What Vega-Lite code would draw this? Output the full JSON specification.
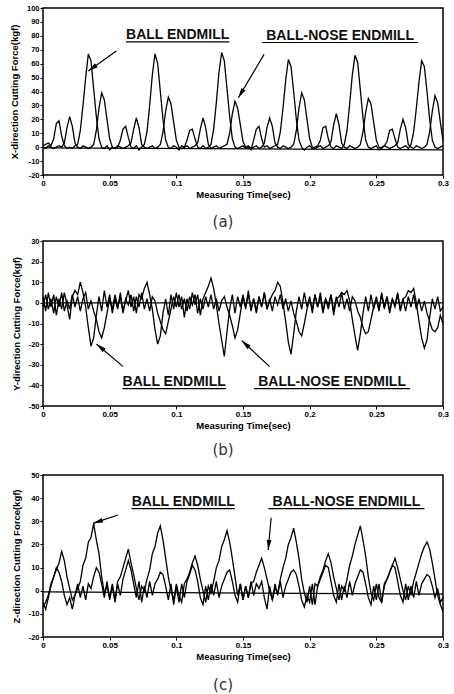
{
"$schema": "https://vega.github.io/schema/vega-lite/v6.json",
"padding": {"left": 8, "top": 3, "right": 5, "bottom": 0},
"background": "white",
"spacing": 11,
"config": {
  "view": {"stroke": "black", "strokeWidth": 1.5},
  "axis": {"grid": false, "domain": false, "tickColor": "black", "tickSize": 3, "tickWidth": 1, "tickCount": 30, "labelFont": "Liberation Sans", "labelFontSize": 7.5, "labelFontWeight": "bold", "labelColor": "black", "titleFont": "Liberation Sans", "titleFontSize": 9.5, "titleFontWeight": "bold", "titleColor": "black", "labelPadding": 1, "labelFlush": false, "labelOverlap": false},
  "axisY": {"titlePadding": 7},
  "axisX": {"titlePadding": 2, "labelFontSize": 8},
  "title": {"font": "DejaVu Sans", "fontSize": 15, "fontWeight": "normal", "color": "#333", "orient": "bottom", "dx": -20}
},
"datasets": {
"sig": [
{"t":0,"a1":1,"a2":0,"b1":3,"b2":-2,"c1":-7,"c2":-5},
{"t":0.002,"a1":2,"a2":-1,"b1":-4,"b2":4,"c1":-5,"c2":-8},
{"t":0.004,"a1":3,"a2":1,"b1":5,"b2":-3,"c1":-2,"c2":-3},
{"t":0.006,"a1":1,"a2":0,"b1":-2,"b2":2,"c1":3,"c2":2},
{"t":0.008,"a1":6,"a2":-1,"b1":4,"b2":-5,"c1":6,"c2":6},
{"t":0.01,"a1":17,"a2":0,"b1":-6,"b2":3,"c1":9,"c2":10},
{"t":0.012,"a1":19,"a2":1,"b1":2,"b2":-2,"c1":12,"c2":8},
{"t":0.014,"a1":8,"a2":0,"b1":-3,"b2":5,"c1":17,"c2":4},
{"t":0.016,"a1":1,"a2":3,"b1":5,"b2":-4,"c1":13,"c2":-2},
{"t":0.018,"a1":-1,"a2":14,"b1":-1,"b2":1,"c1":6,"c2":-6},
{"t":0.02,"a1":0,"a2":22,"b1":-8,"b2":-3,"c1":1,"c2":-3},
{"t":0.022,"a1":-1,"a2":15,"b1":3,"b2":4,"c1":-4,"c2":-8},
{"t":0.024,"a1":1,"a2":3,"b1":6,"b2":-2,"c1":-2,"c2":-2},
{"t":0.026,"a1":2,"a2":0,"b1":4,"b2":3,"c1":1,"c2":3},
{"t":0.028,"a1":12,"a2":-1,"b1":10,"b2":-4,"c1":4,"c2":-3},
{"t":0.03,"a1":30,"a2":1,"b1":5,"b2":2,"c1":11,"c2":2},
{"t":0.032,"a1":50,"a2":0,"b1":-2,"b2":5,"c1":14,"c2":-4},
{"t":0.034,"a1":67,"a2":-1,"b1":-12,"b2":-3,"c1":21,"c2":3},
{"t":0.036,"a1":62,"a2":0,"b1":-21,"b2":1,"c1":23,"c2":1},
{"t":0.038,"a1":42,"a2":2,"b1":-17,"b2":-4,"c1":29,"c2":6},
{"t":0.04,"a1":22,"a2":12,"b1":-6,"b2":-8,"c1":22,"c2":10},
{"t":0.042,"a1":6,"a2":28,"b1":3,"b2":-14,"c1":16,"c2":8},
{"t":0.044,"a1":0,"a2":39,"b1":-4,"b2":-17,"c1":6,"c2":3},
{"t":0.046,"a1":-1,"a2":34,"b1":6,"b2":-12,"c1":-1,"c2":-3},
{"t":0.048,"a1":1,"a2":20,"b1":-2,"b2":-5,"c1":2,"c2":4},
{"t":0.05,"a1":-2,"a2":6,"b1":4,"b2":2,"c1":-3,"c2":-4},
{"t":0.052,"a1":0,"a2":0,"b1":-5,"b2":-3,"c1":3,"c2":2},
{"t":0.054,"a1":-1,"a2":-1,"b1":2,"b2":4,"c1":-4,"c2":-5},
{"t":0.056,"a1":0,"a2":1,"b1":-3,"b2":-2,"c1":4,"c2":3},
{"t":0.058,"a1":5,"a2":0,"b1":5,"b2":3,"c1":6,"c2":-2},
{"t":0.06,"a1":13,"a2":-1,"b1":-4,"b2":-5,"c1":10,"c2":5},
{"t":0.062,"a1":15,"a2":0,"b1":1,"b2":2,"c1":14,"c2":9},
{"t":0.064,"a1":7,"a2":1,"b1":6,"b2":-1,"c1":18,"c2":13},
{"t":0.066,"a1":0,"a2":3,"b1":-2,"b2":4,"c1":12,"c2":9},
{"t":0.068,"a1":-1,"a2":13,"b1":3,"b2":-4,"c1":7,"c2":3},
{"t":0.07,"a1":1,"a2":21,"b1":-5,"b2":3,"c1":1,"c2":-3},
{"t":0.072,"a1":-2,"a2":14,"b1":4,"b2":-2,"c1":-4,"c2":4},
{"t":0.074,"a1":0,"a2":2,"b1":2,"b2":5,"c1":2,"c2":-5},
{"t":0.076,"a1":2,"a2":0,"b1":7,"b2":-3,"c1":0,"c2":2},
{"t":0.078,"a1":11,"a2":-1,"b1":10,"b2":2,"c1":5,"c2":-3},
{"t":0.08,"a1":30,"a2":0,"b1":4,"b2":-4,"c1":9,"c2":4},
{"t":0.082,"a1":52,"a2":1,"b1":-3,"b2":3,"c1":16,"c2":-2},
{"t":0.084,"a1":67,"a2":-1,"b1":-13,"b2":1,"c1":19,"c2":3},
{"t":0.086,"a1":60,"a2":0,"b1":-20,"b2":-5,"c1":25,"c2":5},
{"t":0.088,"a1":40,"a2":2,"b1":-16,"b2":-9,"c1":28,"c2":8},
{"t":0.09,"a1":20,"a2":11,"b1":-5,"b2":-13,"c1":22,"c2":7},
{"t":0.092,"a1":5,"a2":26,"b1":2,"b2":-15,"c1":14,"c2":2},
{"t":0.094,"a1":0,"a2":36,"b1":-6,"b2":-9,"c1":6,"c2":-4},
{"t":0.096,"a1":-1,"a2":31,"b1":4,"b2":-3,"c1":0,"c2":3},
{"t":0.098,"a1":1,"a2":18,"b1":-3,"b2":3,"c1":-4,"c2":-6},
{"t":0.1,"a1":0,"a2":5,"b1":5,"b2":-2,"c1":3,"c2":2},
{"t":0.102,"a1":-2,"a2":0,"b1":-2,"b2":4,"c1":-2,"c2":-5},
{"t":0.104,"a1":1,"a2":-1,"b1":3,"b2":-3,"c1":-5,"c2":3},
{"t":0.106,"a1":0,"a2":0,"b1":-7,"b2":2,"c1":3,"c2":-3},
{"t":0.108,"a1":5,"a2":1,"b1":2,"b2":-4,"c1":5,"c2":4},
{"t":0.11,"a1":12,"a2":-1,"b1":-3,"b2":3,"c1":8,"c2":7},
{"t":0.112,"a1":13,"a2":0,"b1":5,"b2":-1,"c1":12,"c2":11},
{"t":0.114,"a1":6,"a2":1,"b1":-1,"b2":4,"c1":15,"c2":9},
{"t":0.116,"a1":0,"a2":3,"b1":4,"b2":-5,"c1":11,"c2":4},
{"t":0.118,"a1":-1,"a2":13,"b1":-6,"b2":2,"c1":5,"c2":-3},
{"t":0.12,"a1":1,"a2":21,"b1":2,"b2":-3,"c1":0,"c2":-6},
{"t":0.122,"a1":-1,"a2":14,"b1":5,"b2":3,"c1":-5,"c2":2},
{"t":0.124,"a1":0,"a2":2,"b1":8,"b2":-2,"c1":2,"c2":-4},
{"t":0.126,"a1":2,"a2":-1,"b1":12,"b2":4,"c1":-1,"c2":3},
{"t":0.128,"a1":13,"a2":0,"b1":7,"b2":-3,"c1":4,"c2":-2},
{"t":0.13,"a1":32,"a2":1,"b1":-1,"b2":2,"c1":10,"c2":4},
{"t":0.132,"a1":54,"a2":-1,"b1":-10,"b2":-4,"c1":13,"c2":-3},
{"t":0.134,"a1":68,"a2":0,"b1":-18,"b2":1,"c1":19,"c2":2},
{"t":0.136,"a1":62,"a2":1,"b1":-26,"b2":3,"c1":22,"c2":5},
{"t":0.138,"a1":42,"a2":2,"b1":-14,"b2":-2,"c1":26,"c2":8},
{"t":0.14,"a1":22,"a2":10,"b1":-3,"b2":-6,"c1":21,"c2":9},
{"t":0.142,"a1":6,"a2":24,"b1":4,"b2":-11,"c1":14,"c2":4},
{"t":0.144,"a1":0,"a2":33,"b1":-5,"b2":-17,"c1":6,"c2":-2},
{"t":0.146,"a1":-1,"a2":28,"b1":3,"b2":-13,"c1":-2,"c2":-5},
{"t":0.148,"a1":0,"a2":16,"b1":-2,"b2":-5,"c1":3,"c2":3},
{"t":0.15,"a1":1,"a2":4,"b1":4,"b2":3,"c1":-4,"c2":-4},
{"t":0.152,"a1":-1,"a2":0,"b1":-3,"b2":-2,"c1":2,"c2":2},
{"t":0.154,"a1":0,"a2":1,"b1":6,"b2":4,"c1":-3,"c2":-3},
{"t":0.156,"a1":-2,"a2":-1,"b1":-4,"b2":-3,"c1":3,"c2":4},
{"t":0.158,"a1":5,"a2":0,"b1":2,"b2":2,"c1":4,"c2":-2},
{"t":0.16,"a1":13,"a2":1,"b1":-5,"b2":-4,"c1":8,"c2":3},
{"t":0.162,"a1":15,"a2":-1,"b1":3,"b2":3,"c1":11,"c2":1},
{"t":0.164,"a1":6,"a2":0,"b1":-2,"b2":-2,"c1":14,"c2":4},
{"t":0.166,"a1":0,"a2":3,"b1":5,"b2":5,"c1":10,"c2":-3},
{"t":0.168,"a1":1,"a2":14,"b1":-3,"b2":-3,"c1":5,"c2":-8},
{"t":0.17,"a1":-1,"a2":21,"b1":1,"b2":2,"c1":0,"c2":2},
{"t":0.172,"a1":0,"a2":15,"b1":4,"b2":-4,"c1":-4,"c2":-4},
{"t":0.174,"a1":1,"a2":3,"b1":6,"b2":3,"c1":1,"c2":3},
{"t":0.176,"a1":2,"a2":0,"b1":10,"b2":-1,"c1":-1,"c2":-2},
{"t":0.178,"a1":11,"a2":-1,"b1":8,"b2":4,"c1":5,"c2":4},
{"t":0.18,"a1":28,"a2":1,"b1":0,"b2":-3,"c1":10,"c2":-3},
{"t":0.182,"a1":48,"a2":0,"b1":-9,"b2":2,"c1":14,"c2":2},
{"t":0.184,"a1":63,"a2":-1,"b1":-19,"b2":-4,"c1":20,"c2":5},
{"t":0.186,"a1":58,"a2":0,"b1":-25,"b2":1,"c1":23,"c2":8},
{"t":0.188,"a1":40,"a2":2,"b1":-15,"b2":-5,"c1":27,"c2":9},
{"t":0.19,"a1":20,"a2":12,"b1":-4,"b2":-9,"c1":21,"c2":7},
{"t":0.192,"a1":5,"a2":28,"b1":3,"b2":-14,"c1":14,"c2":2},
{"t":0.194,"a1":0,"a2":39,"b1":-3,"b2":-16,"c1":5,"c2":-4},
{"t":0.196,"a1":-2,"a2":34,"b1":5,"b2":-10,"c1":-1,"c2":-7},
{"t":0.198,"a1":0,"a2":20,"b1":-2,"b2":-3,"c1":-5,"c2":-2},
{"t":0.2,"a1":1,"a2":6,"b1":3,"b2":2,"c1":2,"c2":-5},
{"t":0.202,"a1":-1,"a2":0,"b1":-5,"b2":-3,"c1":-6,"c2":3},
{"t":0.204,"a1":0,"a2":-1,"b1":4,"b2":4,"c1":3,"c2":-6},
{"t":0.206,"a1":1,"a2":0,"b1":-2,"b2":-2,"c1":2,"c2":2},
{"t":0.208,"a1":5,"a2":1,"b1":5,"b2":3,"c1":6,"c2":5},
{"t":0.21,"a1":14,"a2":-1,"b1":-4,"b2":-5,"c1":9,"c2":8},
{"t":0.212,"a1":15,"a2":0,"b1":2,"b2":2,"c1":13,"c2":11},
{"t":0.214,"a1":6,"a2":1,"b1":-3,"b2":-1,"c1":16,"c2":10},
{"t":0.216,"a1":0,"a2":4,"b1":4,"b2":4,"c1":12,"c2":4},
{"t":0.218,"a1":-1,"a2":16,"b1":-6,"b2":-4,"c1":6,"c2":-2},
{"t":0.22,"a1":1,"a2":24,"b1":2,"b2":3,"c1":1,"c2":-5},
{"t":0.222,"a1":0,"a2":16,"b1":3,"b2":-2,"c1":-4,"c2":3},
{"t":0.224,"a1":-1,"a2":3,"b1":5,"b2":5,"c1":2,"c2":-4},
{"t":0.226,"a1":2,"a2":0,"b1":4,"b2":-3,"c1":0,"c2":2},
{"t":0.228,"a1":12,"a2":-1,"b1":6,"b2":2,"c1":5,"c2":-3},
{"t":0.23,"a1":31,"a2":1,"b1":1,"b2":-4,"c1":11,"c2":4},
{"t":0.232,"a1":52,"a2":0,"b1":-8,"b2":3,"c1":15,"c2":-2},
{"t":0.234,"a1":66,"a2":-1,"b1":-16,"b2":1,"c1":20,"c2":3},
{"t":0.236,"a1":61,"a2":0,"b1":-23,"b2":-4,"c1":24,"c2":6},
{"t":0.238,"a1":41,"a2":2,"b1":-15,"b2":-7,"c1":28,"c2":9},
{"t":0.24,"a1":21,"a2":11,"b1":-5,"b2":-12,"c1":22,"c2":8},
{"t":0.242,"a1":5,"a2":25,"b1":3,"b2":-15,"c1":15,"c2":3},
{"t":0.244,"a1":0,"a2":35,"b1":-4,"b2":-14,"c1":6,"c2":-3},
{"t":0.246,"a1":-1,"a2":31,"b1":4,"b2":-8,"c1":-1,"c2":-6},
{"t":0.248,"a1":0,"a2":18,"b1":-3,"b2":-2,"c1":-4,"c2":2},
{"t":0.25,"a1":1,"a2":5,"b1":2,"b2":3,"c1":3,"c2":-4},
{"t":0.252,"a1":-2,"a2":0,"b1":-4,"b2":-3,"c1":-3,"c2":3},
{"t":0.254,"a1":0,"a2":-1,"b1":5,"b2":4,"c1":-5,"c2":-5},
{"t":0.256,"a1":1,"a2":1,"b1":-3,"b2":-2,"c1":3,"c2":2},
{"t":0.258,"a1":4,"a2":0,"b1":3,"b2":3,"c1":5,"c2":5},
{"t":0.26,"a1":12,"a2":-1,"b1":-5,"b2":-4,"c1":8,"c2":8},
{"t":0.262,"a1":13,"a2":0,"b1":2,"b2":2,"c1":11,"c2":11},
{"t":0.264,"a1":6,"a2":1,"b1":-2,"b2":-1,"c1":14,"c2":10},
{"t":0.266,"a1":0,"a2":3,"b1":4,"b2":5,"c1":10,"c2":4},
{"t":0.268,"a1":-1,"a2":13,"b1":-4,"b2":-3,"c1":5,"c2":-2},
{"t":0.27,"a1":0,"a2":20,"b1":2,"b2":2,"c1":0,"c2":-5},
{"t":0.272,"a1":1,"a2":14,"b1":3,"b2":-4,"c1":-4,"c2":3},
{"t":0.274,"a1":-1,"a2":2,"b1":6,"b2":3,"c1":2,"c2":-4},
{"t":0.276,"a1":2,"a2":0,"b1":5,"b2":-2,"c1":-2,"c2":2},
{"t":0.278,"a1":11,"a2":-1,"b1":7,"b2":4,"c1":4,"c2":-3},
{"t":0.28,"a1":28,"a2":1,"b1":0,"b2":-3,"c1":8,"c2":4},
{"t":0.282,"a1":47,"a2":0,"b1":-9,"b2":2,"c1":12,"c2":-2},
{"t":0.284,"a1":62,"a2":-1,"b1":-17,"b2":-4,"c1":16,"c2":3},
{"t":0.286,"a1":58,"a2":0,"b1":-22,"b2":1,"c1":19,"c2":5},
{"t":0.288,"a1":40,"a2":2,"b1":-18,"b2":-5,"c1":21,"c2":7},
{"t":0.29,"a1":20,"a2":11,"b1":-7,"b2":-9,"c1":18,"c2":6},
{"t":0.292,"a1":5,"a2":26,"b1":2,"b2":-13,"c1":12,"c2":2},
{"t":0.294,"a1":0,"a2":37,"b1":-3,"b2":-14,"c1":5,"c2":-3},
{"t":0.296,"a1":-1,"a2":32,"b1":3,"b2":-12,"c1":-2,"c2":1},
{"t":0.298,"a1":0,"a2":18,"b1":-4,"b2":-6,"c1":-6,"c2":-5},
{"t":0.3,"a1":1,"a2":5,"b1":-2,"b2":-10,"c1":-9,"c2":-3}
],
"txt": [
{"p":"a","label":"BALL ENDMILL","t":0.101,"f":77.5},
{"p":"a","label":"BALL-NOSE ENDMILL","t":0.2228,"f":77},
{"p":"b","label":"BALL ENDMILL","t":0.0984,"f":-40.4},
{"p":"b","label":"BALL-NOSE ENDMILL","t":0.2168,"f":-40.4},
{"p":"c","label":"BALL ENDMILL","t":0.1052,"f":36.6},
{"p":"c","label":"BALL-NOSE ENDMILL","t":0.2276,"f":36.6}
],
"seg": [
{"p":"a","t":0.0622,"f":75.7,"t2":0.1398,"f2":75.7},
{"p":"a","t":0.1643,"f":75.2,"t2":0.2813,"f2":75.2},
{"p":"a","t":0.055,"f":69.1,"t2":0.0339,"f2":54.7},
{"p":"a","t":0.1658,"f":66.7,"t2":0.1465,"f2":35.5},
{"p":"a","t":0,"f":-0.5,"t2":0.3,"f2":-2},
{"p":"b","t":0.0596,"f":-41.6,"t2":0.1372,"f2":-41.6},
{"p":"b","t":0.1583,"f":-41.6,"t2":0.2753,"f2":-41.6},
{"p":"b","t":0.0599,"f":-30.8,"t2":0.0401,"f2":-19.9},
{"p":"b","t":0.17,"f":-30.9,"t2":0.149,"f2":-18.3},
{"p":"b","t":0,"f":0,"t2":0.3,"f2":0},
{"p":"c","t":0.0664,"f":35.5,"t2":0.144,"f2":35.5},
{"p":"c","t":0.1691,"f":35.5,"t2":0.2861,"f2":35.5},
{"p":"c","t":0.0562,"f":32.7,"t2":0.0375,"f2":29.1},
{"p":"c","t":0.1711,"f":31.5,"t2":0.1689,"f2":17.6},
{"p":"c","t":0,"f":-0.5,"t2":0.3,"f2":-1.5}
],
"head": [
{"p":"a","t":0.0339,"f":54.7,"ang":234.5},
{"p":"a","t":0.1465,"f":35.5,"ang":210.6},
{"p":"b","t":0.0401,"f":-19.9,"ang":309.9},
{"p":"b","t":0.149,"f":-18.3,"ang":312.6},
{"p":"c","t":0.0375,"f":29.1,"ang":251.6},
{"p":"c","t":0.1689,"f":17.6,"ang":185.3}
]
},
"vconcat": [
{
"spacing": 5,
"vconcat": [
{
  "width": 400, "height": 167,
  "title": {"text": "(a)", "offset": 16},
  "layer": [
    {"data": {"name": "sig"}, "transform": [{"fold": ["a1", "a2"], "as": ["series", "v"]}],
     "mark": {"type": "line", "color": "black", "strokeWidth": 1.3},
     "encoding": {
       "x": {"field": "t", "type": "quantitative", "scale": {"domain": [0, 0.3], "nice": false, "zero": false}, "axis": {"values": [0, 0.05, 0.1, 0.15, 0.2, 0.25, 0.3], "tickCount": 30, "labelOverlap": false, "labelExpr": "datum.value == 0 ? '0' : format(datum.value, '.2~f')", "title": "Measuring Time(sec)"}},
       "y": {"field": "v", "type": "quantitative", "scale": {"domain": [-20, 100], "nice": false, "zero": false}, "axis": {"values": [-20, -10, 0, 10, 20, 30, 40, 50, 60, 70, 80, 90, 100], "tickCount": 30, "labelOverlap": false, "labelExpr": "'' + datum.value", "title": "X-direction Cutting Force(kgf)"}},
       "detail": {"field": "series"}
     }},
    {"data": {"name": "seg"}, "transform": [{"filter": "datum.p == 'a'"}],
     "mark": {"type": "rule", "color": "black", "strokeWidth": 1.2},
     "encoding": {"x": {"field": "t", "type": "quantitative"}, "y": {"field": "f", "type": "quantitative"}, "x2": {"field": "t2"}, "y2": {"field": "f2"}}},
    {"data": {"name": "head"}, "transform": [{"filter": "datum.p == 'a'"}],
     "mark": {"type": "point", "shape": "M0,0L0.6,2.5L-0.6,2.5Z", "filled": true, "color": "black", "opacity": 1, "size": 64},
     "encoding": {"x": {"field": "t", "type": "quantitative"}, "y": {"field": "f", "type": "quantitative"}, "angle": {"field": "ang", "type": "quantitative", "scale": null}}},
    {"data": {"name": "txt"}, "transform": [{"filter": "datum.p == 'a'"}],
     "mark": {"type": "text", "font": "Liberation Sans", "fontWeight": "bold", "fontSize": 14, "baseline": "alphabetic", "align": "center", "color": "#111"},
     "encoding": {"x": {"field": "t", "type": "quantitative"}, "y": {"field": "f", "type": "quantitative"}, "text": {"field": "label"}}}
  ]
},
{
  "width": 400, "height": 165,
  "title": {"text": "(b)", "offset": 13},
  "layer": [
    {"data": {"name": "sig"}, "transform": [{"fold": ["b1", "b2"], "as": ["series", "v"]}],
     "mark": {"type": "line", "color": "black", "strokeWidth": 1.3},
     "encoding": {
       "x": {"field": "t", "type": "quantitative", "scale": {"domain": [0, 0.3], "nice": false, "zero": false}, "axis": {"values": [0, 0.05, 0.1, 0.15, 0.2, 0.25, 0.3], "tickCount": 30, "labelOverlap": false, "labelExpr": "datum.value == 0 ? '0' : format(datum.value, '.2~f')", "title": "Measuring Time(sec)"}},
       "y": {"field": "v", "type": "quantitative", "scale": {"domain": [-50, 30], "nice": false, "zero": false}, "axis": {"values": [-50, -40, -30, -20, -10, 0, 10, 20, 30], "tickCount": 30, "labelOverlap": false, "labelExpr": "'' + datum.value", "title": "Y-direction Cutting Force(kgf)"}},
       "detail": {"field": "series"}
     }},
    {"data": {"name": "seg"}, "transform": [{"filter": "datum.p == 'b'"}],
     "mark": {"type": "rule", "color": "black", "strokeWidth": 1.2},
     "encoding": {"x": {"field": "t", "type": "quantitative"}, "y": {"field": "f", "type": "quantitative"}, "x2": {"field": "t2"}, "y2": {"field": "f2"}}},
    {"data": {"name": "head"}, "transform": [{"filter": "datum.p == 'b'"}],
     "mark": {"type": "point", "shape": "M0,0L0.6,2.5L-0.6,2.5Z", "filled": true, "color": "black", "opacity": 1, "size": 64},
     "encoding": {"x": {"field": "t", "type": "quantitative"}, "y": {"field": "f", "type": "quantitative"}, "angle": {"field": "ang", "type": "quantitative", "scale": null}}},
    {"data": {"name": "txt"}, "transform": [{"filter": "datum.p == 'b'"}],
     "mark": {"type": "text", "font": "Liberation Sans", "fontWeight": "bold", "fontSize": 14, "baseline": "alphabetic", "align": "center", "color": "#111"},
     "encoding": {"x": {"field": "t", "type": "quantitative"}, "y": {"field": "f", "type": "quantitative"}, "text": {"field": "label"}}}
  ]
}
]
},
{
  "width": 400, "height": 162,
  "title": {"text": "(c)", "offset": 17},
  "layer": [
    {"data": {"name": "sig"}, "transform": [{"fold": ["c1", "c2"], "as": ["series", "v"]}],
     "mark": {"type": "line", "color": "black", "strokeWidth": 1.3},
     "encoding": {
       "x": {"field": "t", "type": "quantitative", "scale": {"domain": [0, 0.3], "nice": false, "zero": false}, "axis": {"values": [0, 0.05, 0.1, 0.15, 0.2, 0.25, 0.3], "tickCount": 30, "labelOverlap": false, "labelExpr": "datum.value == 0 ? '0' : format(datum.value, '.2~f')", "title": "Measuring Time(sec)"}},
       "y": {"field": "v", "type": "quantitative", "scale": {"domain": [-20, 50], "nice": false, "zero": false}, "axis": {"values": [-20, -10, 0, 10, 20, 30, 40, 50], "tickCount": 30, "labelOverlap": false, "labelExpr": "'' + datum.value", "title": "Z-direction Cutting Force(kgf)"}},
       "detail": {"field": "series"}
     }},
    {"data": {"name": "seg"}, "transform": [{"filter": "datum.p == 'c'"}],
     "mark": {"type": "rule", "color": "black", "strokeWidth": 1.2},
     "encoding": {"x": {"field": "t", "type": "quantitative"}, "y": {"field": "f", "type": "quantitative"}, "x2": {"field": "t2"}, "y2": {"field": "f2"}}},
    {"data": {"name": "head"}, "transform": [{"filter": "datum.p == 'c'"}],
     "mark": {"type": "point", "shape": "M0,0L0.6,2.5L-0.6,2.5Z", "filled": true, "color": "black", "opacity": 1, "size": 64},
     "encoding": {"x": {"field": "t", "type": "quantitative"}, "y": {"field": "f", "type": "quantitative"}, "angle": {"field": "ang", "type": "quantitative", "scale": null}}},
    {"data": {"name": "txt"}, "transform": [{"filter": "datum.p == 'c'"}],
     "mark": {"type": "text", "font": "Liberation Sans", "fontWeight": "bold", "fontSize": 14, "baseline": "alphabetic", "align": "center", "color": "#111"},
     "encoding": {"x": {"field": "t", "type": "quantitative"}, "y": {"field": "f", "type": "quantitative"}, "text": {"field": "label"}}}
  ]
}
]
}
